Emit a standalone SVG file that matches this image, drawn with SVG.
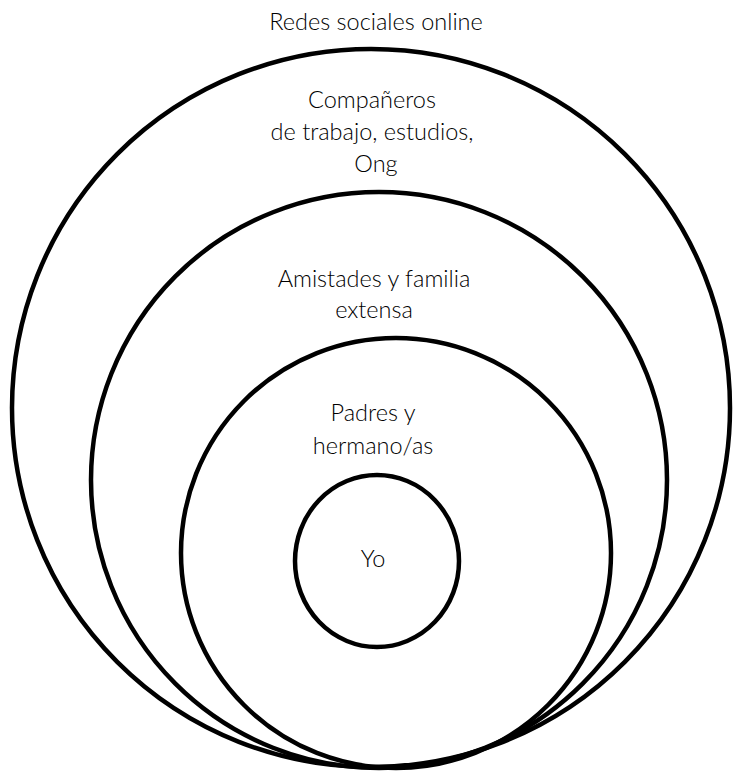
<svg xmlns="http://www.w3.org/2000/svg" width="733" height="772" viewBox="0 0 733 772">
  <style>
    .ring { fill: none; stroke: #000; stroke-width: 4.5; }
    .label { font-family: Lato, "Open Sans", "Liberation Sans", sans-serif; font-weight: 300; font-size: 23.5px; fill: #000; text-anchor: middle; }
  </style>
  <rect width="733" height="772" fill="#fff"/>

  <!-- nested circles, all touching at the bottom -->
  <g id="redes-sociales">
    <circle class="ring" cx="371" cy="408" r="359"/>
    <text class="label" x="376" y="30">Redes sociales online</text>
  </g>

  <g id="companeros">
    <circle class="ring" cx="379" cy="480" r="288"/>
    <text class="label" x="372" y="108">Compañeros</text>
    <text class="label" x="372" y="140">de trabajo, estudios,</text>
    <text class="label" x="376" y="172">Ong</text>
  </g>

  <g id="amistades">
    <circle class="ring" cx="396" cy="553" r="215"/>
    <text class="label" x="374" y="287">Amistades y familia</text>
    <text class="label" x="374" y="318">extensa</text>
  </g>

  <g id="padres">
    <text class="label" x="373" y="421">Padres y</text>
    <text class="label" x="373" y="454">hermano/as</text>
  </g>

  <g id="yo">
    <ellipse class="ring" cx="377" cy="561" rx="82" ry="86"/>
    <text class="label" x="373" y="567">Yo</text>
  </g>
</svg>
